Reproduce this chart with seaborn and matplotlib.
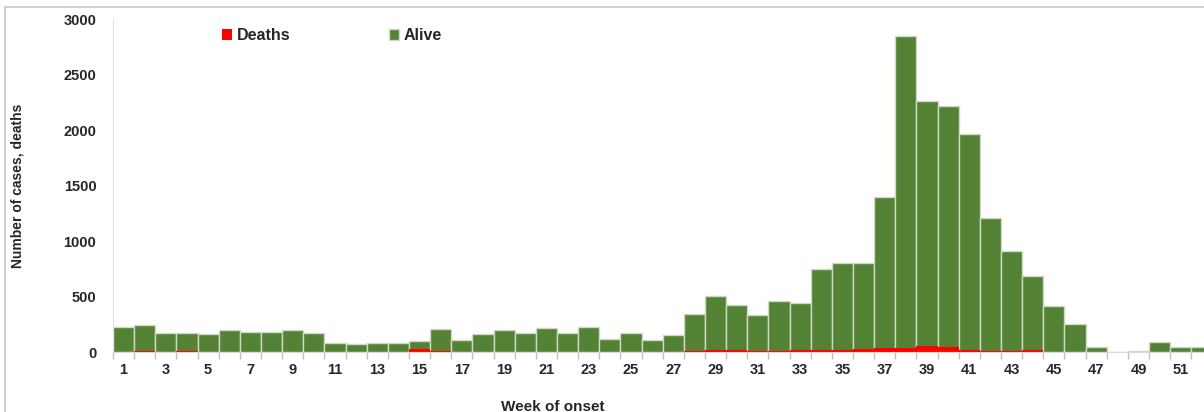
import numpy as np
import pandas as pd
import seaborn as sns
import matplotlib.pyplot as plt
from matplotlib.patches import Rectangle
from matplotlib.ticker import FixedLocator

# week of onset, 1..52
weeks = list(range(1, 53))
deaths = [0, 9, 0, 6, 0, 0, 0, 0, 0, 0,
          0, 0, 0, 0, 30, 6, 0, 0, 0, 0,
          0, 0, 0, 0, 0, 0, 0, 6, 18, 21,
          12, 12, 15, 21, 15, 30, 36, 39, 54, 42,
          21, 12, 6, 15, 0, 0, 0, 0, 0, 0,
          0, 0]
totals = [228, 240, 171, 171, 159, 195, 177, 177, 195, 171,
          81, 69, 81, 81, 96, 207, 105, 165, 201, 174,
          216, 174, 225, 117, 171, 111, 153, 342, 507, 420,
          333, 459, 444, 745, 800, 805, 1397, 2846, 2262, 2220,
          1964, 1204, 907, 681, 411, 255, 48, 0, 5, 87,
          45, 45]
alive = [t - d for t, d in zip(totals, deaths)]

df = pd.DataFrame({"week": weeks, "deaths": deaths, "alive": alive})
df["total"] = df["deaths"] + df["alive"]

green = "#548235"
red = "#ff0000"
edge = "#d0d8c8"

sns.set_style("white")
plt.rcParams["font.family"] = ["Liberation Sans", "DejaVu Sans"]
plt.rcParams["font.weight"] = "bold"

fig = plt.figure(figsize=(12.04, 4.12), dpi=100)
ax = fig.add_axes([113 / 1204, 60 / 412, 1 - 113 / 1204, 333 / 412])

sns.barplot(data=df, x="week", y="total", native_scale=True, width=1,
            color=green, edgecolor=edge, linewidth=1, saturation=1,
            label="Alive", ax=ax)
sns.barplot(data=df, x="week", y="deaths", native_scale=True, width=1,
            color=red, edgecolor=red, linewidth=0, saturation=1,
            label="Deaths", ax=ax)

ax.set_xlim(0.5, 52.1)
ax.set_ylim(0, 3000)
ax.set_yticks(range(0, 3001, 500))
ax.set_xticks(range(1, 53, 2))
ax.xaxis.set_minor_locator(FixedLocator(np.arange(0.5, 53, 1)))
ax.tick_params(axis="x", which="major", length=0, pad=8, labelsize=10.5)
ax.tick_params(axis="x", which="minor", length=5, width=1, color="#bfbfbf",
               direction="out", bottom=True)
ax.tick_params(axis="y", length=0, pad=12, labelsize=10.5)
for lab in ax.get_xticklabels() + ax.get_yticklabels():
    lab.set_fontweight("bold")

for side in ["top", "right"]:
    ax.spines[side].set_visible(False)
ax.spines["left"].set_color("#e0e0e0")
ax.spines["bottom"].set_color("#d9d9d9")

ax.set_xlabel("Week of onset", fontsize=11, fontweight="bold")
ax.xaxis.set_label_coords(0.403, -0.145)
ax.set_ylabel("Number of cases, deaths", fontsize=10, fontweight="bold")
ax.yaxis.set_label_coords(-0.081, 0.5)

handles, labels = ax.get_legend_handles_labels()
order = [labels.index("Deaths"), labels.index("Alive")]
leg = ax.legend([handles[i] for i in order], [labels[i] for i in order],
                ncol=2, frameon=False, loc="center left",
                bbox_to_anchor=(0.087, 0.95), handlelength=0.6,
                handleheight=0.6, handletextpad=0.3, columnspacing=6.2,
                prop={"size": 11.5, "weight": "bold"})

# outer chart frame (cropped at right and bottom)
fig.add_artist(Rectangle((5 / 1204, -0.1), 1.1, 1.1 - 7 / 412,
                         transform=fig.transFigure, fill=False,
                         edgecolor="#c8c8c8", linewidth=1.2))

fig.savefig("out.png", dpi=100)
